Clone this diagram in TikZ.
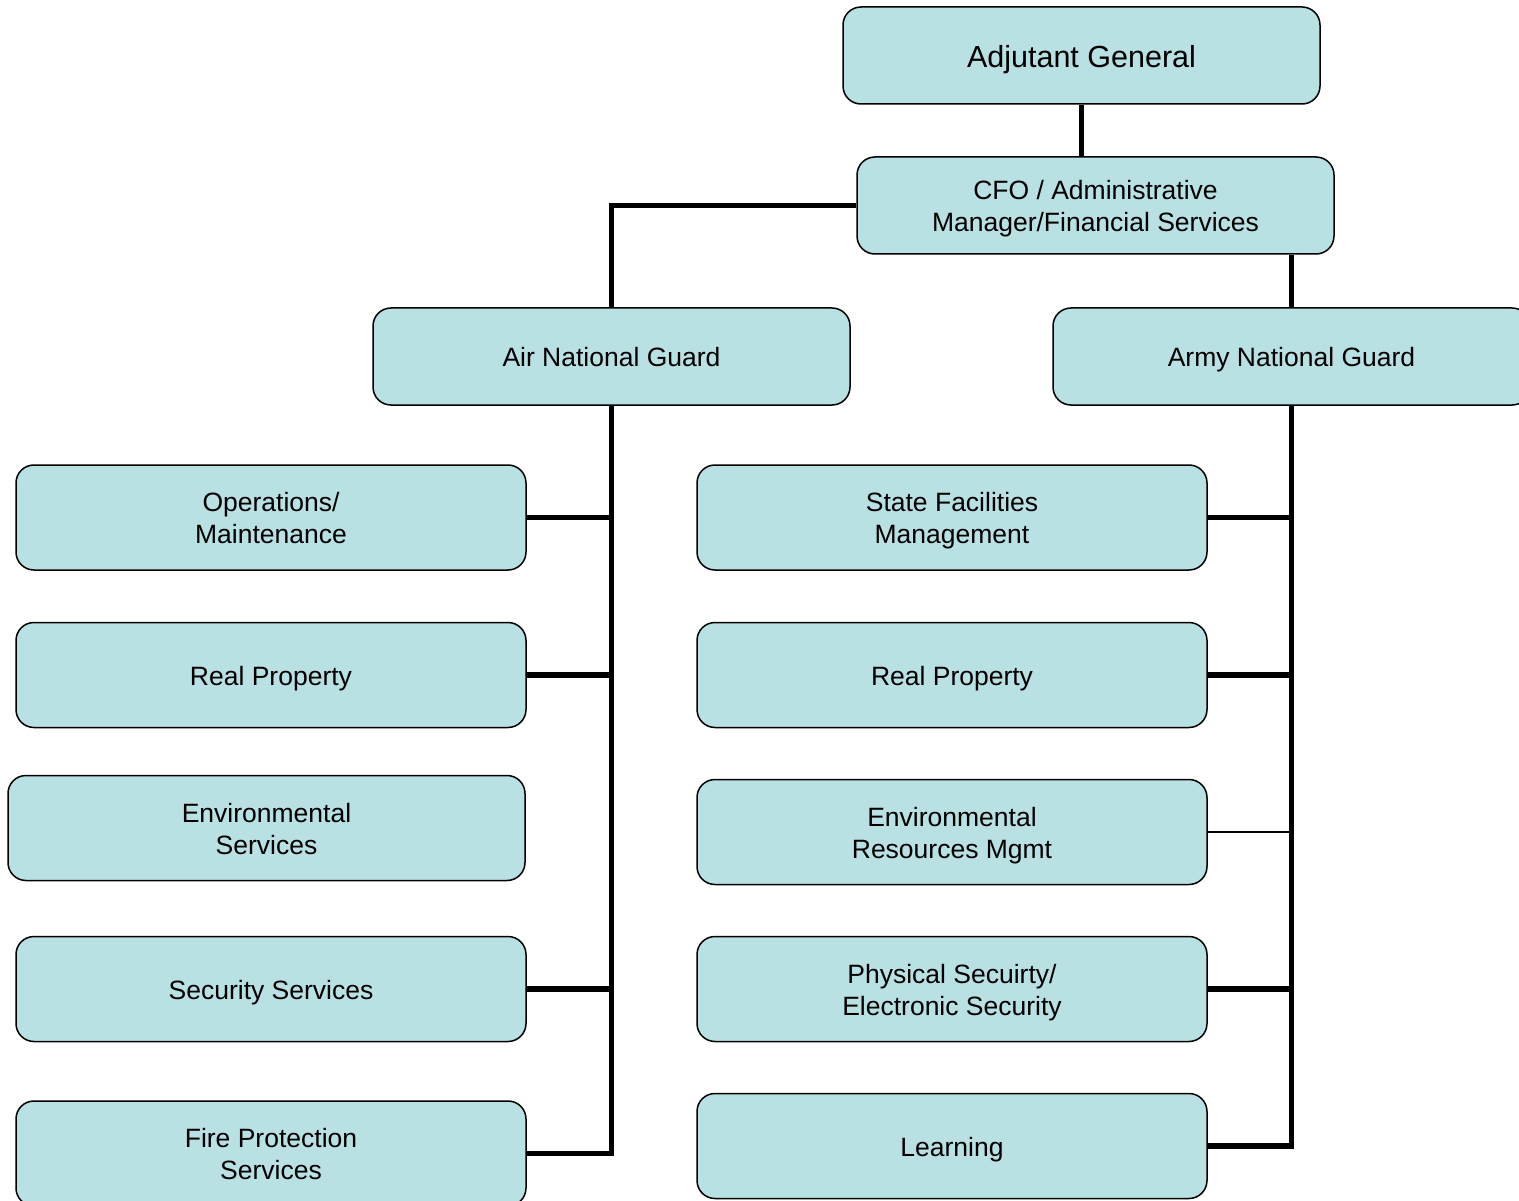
\documentclass[tikz,border=0pt]{standalone}
\usepackage{fontspec}
\setmainfont{Liberation Sans}
\definecolor{boxfill}{RGB}{185,224,227}
\newcommand\lst{\rule[-6pt]{0pt}{32pt}}
\newcommand\bst{\rule[-6pt]{0pt}{37pt}}
\tikzset{
  orgbox/.style={draw=black, line width=1.5pt, fill=boxfill, rounded corners=18pt,
    align=center, inner sep=0pt, font=\fontsize{26.5}{32}\selectfont, text=black},
  topbox/.style={orgbox, minimum width=477pt, minimum height=97pt},
  subbox/.style={orgbox, minimum width=510pt, minimum height=105pt},
  conn/.style={draw=black, line width=5.5pt},
  thinconn/.style={draw=black, line width=1.5pt}
}
\begin{document}
\begin{tikzpicture}[x=1pt, y=-1pt]
\clip (0,0) rectangle (1519,1201);
\fill[white] (0,0) rectangle (1519,1201);

\node[topbox, font=\fontsize{30.5}{36}\selectfont] (ag) at (1081.5,55.5) {\bst Adjutant General};
\node[topbox] (cfo) at (1095.5,205.5) {\lst CFO / Administrative\\\lst Manager/Financial Services};
\node[topbox] (air) at (611.5,356.5) {\lst Air National Guard};
\node[topbox] (army) at (1291.5,356.5) {\lst Army National Guard};

\node[subbox] (ops) at (271,517.5) {\lst Operations/\\\lst Maintenance};
\node[subbox] (rp1) at (271,675) {\lst Real Property};
\node[subbox, minimum width=517pt] (env1) at (266.5,828) {\lst Environmental\\\lst Services};
\node[subbox] (sec) at (271,989) {\lst Security Services};
\node[subbox] (fire) at (271,1153.5) {\lst Fire Protection\\\lst Services};

\node[subbox] (sfm) at (952,517.5) {\lst State Facilities\\\lst Management};
\node[subbox] (rp2) at (952,675) {\lst Real Property};
\node[subbox] (env2) at (952,832) {\lst Environmental\\\lst Resources Mgmt};
\node[subbox] (phys) at (952,989) {\lst Physical Secuirty/\\\lst Electronic Security};
\node[subbox] (learn) at (952,1146) {\lst Learning};

\draw[conn] (ag.south) -- (ag.south |- cfo.north);
\draw[conn] (cfo.west) -| (air.north);
\draw[conn] (army.north |- cfo.south) -- (army.north);

\draw[conn] (air.south) |- (fire.east);
\draw[conn] (ops.east) -- (ops.east -| air.south);
\draw[conn] (rp1.east) -- (rp1.east -| air.south);
\draw[conn] (sec.east) -- (sec.east -| air.south);

\draw[conn] (army.south) |- (learn.east);
\draw[conn] (sfm.east) -- (sfm.east -| army.south);
\draw[conn] (rp2.east) -- (rp2.east -| army.south);
\draw[thinconn] (env2.east) -- (env2.east -| army.south);
\draw[conn] (phys.east) -- (phys.east -| army.south);
\end{tikzpicture}
\end{document}
